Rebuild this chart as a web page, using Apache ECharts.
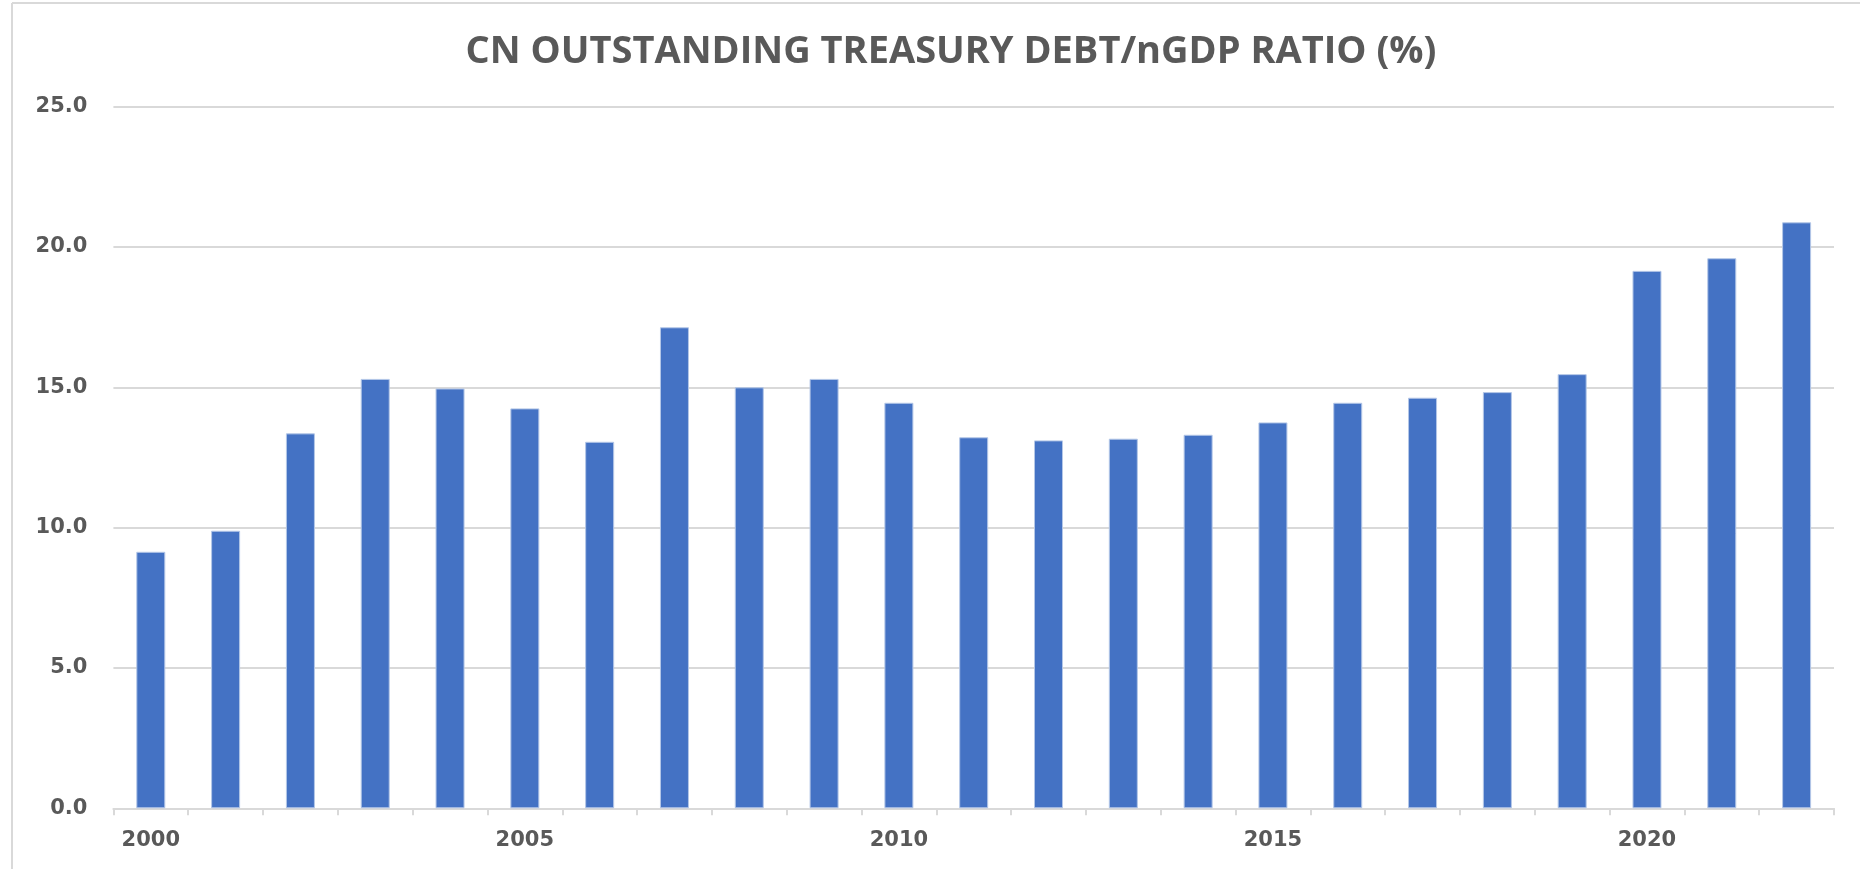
<!DOCTYPE html>
<html>
<head>
<meta charset="utf-8">
<script src="https://cdn.jsdelivr.net/npm/echarts@6/dist/echarts.min.js"></script>
<style>
html,body{margin:0;padding:0;background:#fff;}
#chart{width:1860px;height:869px;}
</style>
</head>
<body>
<div id="chart"></div>
<script>
const titleText = 'CN OUTSTANDING TREASURY DEBT/nGDP RATIO (%)';
const years = ['2000','2001','2002','2003','2004','2005','2006','2007','2008','2009','2010','2011','2012','2013','2014','2015','2016','2017','2018','2019','2020','2021','2022'];
const debtRatio = [9.14, 9.89, 13.36, 15.30, 14.96, 14.25, 13.06, 17.14, 15.00, 15.30, 14.45, 13.22, 13.11, 13.17, 13.31, 13.75, 14.45, 14.63, 14.83, 15.47, 19.15, 19.60, 20.88];
const yTicks = {min: 0, max: 25, interval: 5};

const chart = echarts.init(document.getElementById('chart'), null, {renderer: 'canvas'});
chart.setOption({
  backgroundColor: '#ffffff',
  animation: false,
  title: {
    text: titleText,
    left: 946,
    top: 28,
    textAlign: 'center',
    textStyle: {
      fontFamily: 'Open Sans',
      fontWeight: 'bold',
      fontSize: 38,
      color: '#595959'
    }
  },
  graphic: [
    {type: 'line', shape: {x1: 12, y1: 3, x2: 12, y2: 869}, style: {stroke: '#d9d9d9', lineWidth: 2}},
    {type: 'line', shape: {x1: 12, y1: 3, x2: 1860, y2: 3}, style: {stroke: '#d9d9d9', lineWidth: 2}}
  ],
  grid: {left: 113.4, right: 26, top: 106.7, bottom: 60.7, containLabel: false},
  xAxis: {
    type: 'category',
    data: years,
    boundaryGap: true,
    axisLine: {show: true, lineStyle: {color: '#d9d9d9', width: 2}},
    axisTick: {show: true, interval: 0, length: 7, lineStyle: {color: '#d9d9d9', width: 2}},
    axisLabel: {
      interval: 4,
      margin: 22,
      fontFamily: 'DejaVu Sans',
      fontWeight: 'bold',
      fontSize: 21,
      color: '#595959'
    },
    splitLine: {show: false}
  },
  yAxis: {
    type: 'value',
    min: yTicks.min,
    max: yTicks.max,
    interval: yTicks.interval,
    axisLine: {show: false},
    axisTick: {show: false},
    axisLabel: {
      margin: 26,
      formatter: v => v.toFixed(1),
      fontFamily: 'DejaVu Sans',
      fontWeight: 'bold',
      fontSize: 21,
      color: '#595959'
    },
    splitLine: {show: true, lineStyle: {color: '#d9d9d9', width: 2}}
  },
  series: [{
    type: 'bar',
    data: debtRatio,
    barWidth: 29,
    itemStyle: {color: '#4472C4', borderColor: '#b4c7e7', borderWidth: 1}
  }]
});
</script>
</body>
</html>
